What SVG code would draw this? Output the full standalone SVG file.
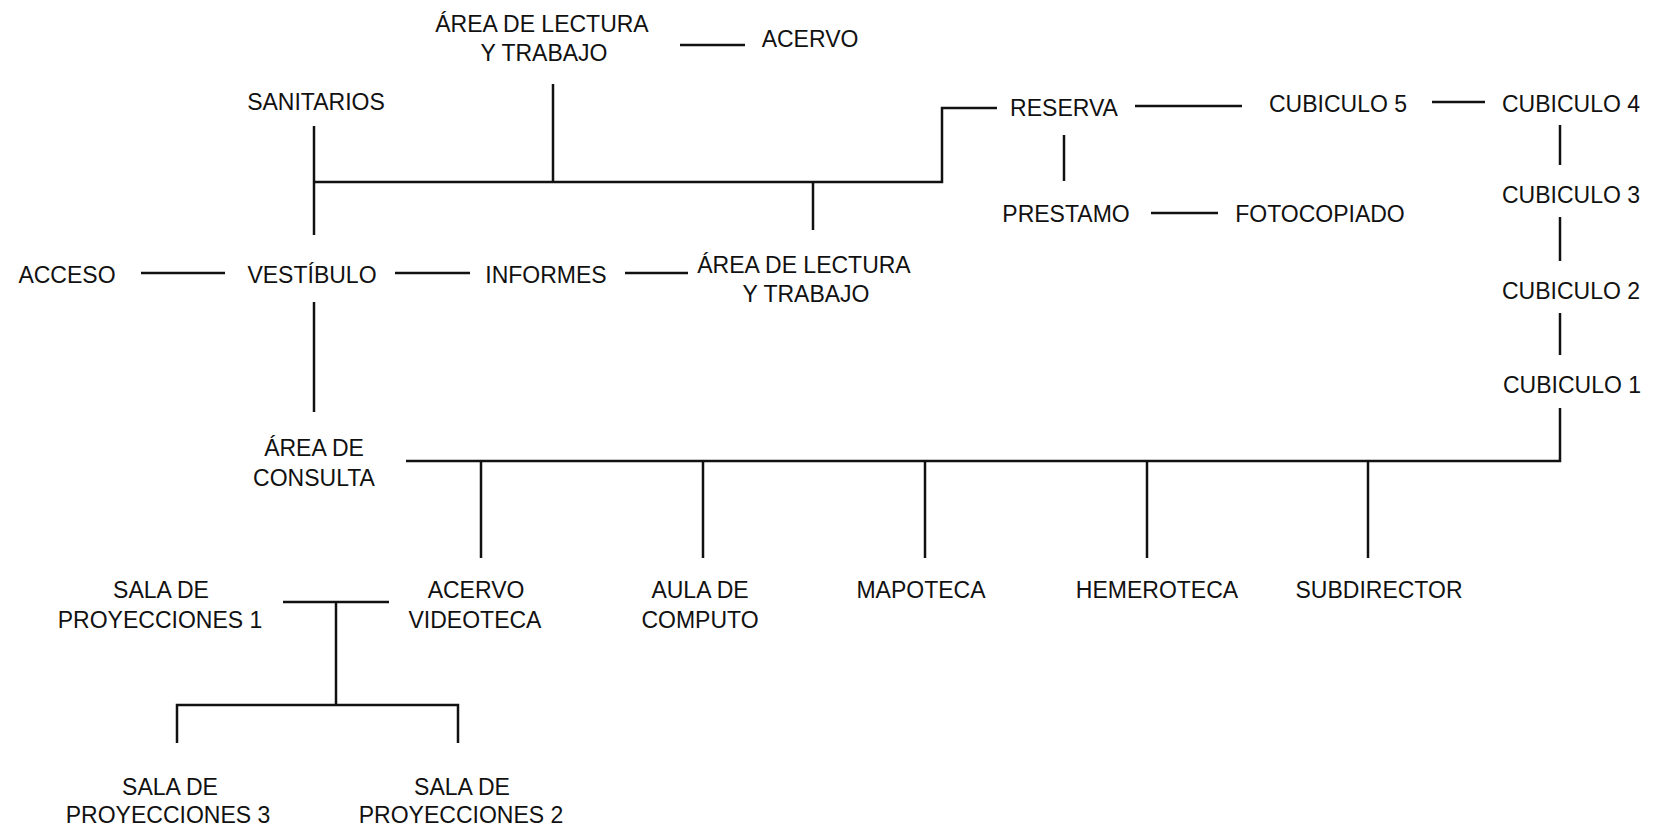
<svg xmlns="http://www.w3.org/2000/svg" width="1653" height="828" viewBox="0 0 1653 828">
<style>
text{font-family:"Liberation Sans",Arial,sans-serif;font-size:23px;fill:#111;text-anchor:middle}
.c line,.c polyline{stroke:#111;stroke-width:2.5;fill:none}
</style>
<rect width="1653" height="828" fill="#fff"/>
<g class="c" id="connectors">
<line x1="680" y1="45" x2="745" y2="45"/>
<line x1="314" y1="126" x2="314" y2="235"/>
<polyline points="314,182 942,182 942,108 997,108"/>
<line x1="553" y1="84" x2="553" y2="182"/>
<line x1="813" y1="182" x2="813" y2="230"/>
<line x1="141" y1="273" x2="225" y2="273"/>
<line x1="395" y1="273" x2="470" y2="273"/>
<line x1="625" y1="273" x2="688" y2="273"/>
<line x1="1135" y1="106" x2="1242" y2="106"/>
<line x1="1432" y1="102" x2="1485" y2="102"/>
<line x1="1064" y1="135" x2="1064" y2="181"/>
<line x1="1151" y1="213" x2="1218" y2="213"/>
<line x1="1560" y1="125" x2="1560" y2="165"/>
<line x1="1560" y1="217" x2="1560" y2="261"/>
<line x1="1560" y1="313" x2="1560" y2="355"/>
<polyline points="1560,408 1560,461 406,461"/>
<line x1="481" y1="461" x2="481" y2="558"/>
<line x1="703" y1="461" x2="703" y2="558"/>
<line x1="925" y1="461" x2="925" y2="558"/>
<line x1="1147" y1="461" x2="1147" y2="558"/>
<line x1="1368" y1="461" x2="1368" y2="558"/>
<line x1="314" y1="302" x2="314" y2="412"/>
<line x1="283" y1="602" x2="389" y2="602"/>
<line x1="336" y1="602" x2="336" y2="705"/>
<polyline points="177,743 177,705 458,705 458,743"/>
</g>
<g id="lectura1"><text x="542" y="32">ÁREA DE LECTURA</text><text x="544" y="61">Y TRABAJO</text></g>
<g id="acervo1"><text x="810" y="47">ACERVO</text></g>
<g id="sanitarios"><text x="316" y="110">SANITARIOS</text></g>
<g id="reserva"><text x="1064" y="116">RESERVA</text></g>
<g id="cubiculo5"><text x="1338" y="112">CUBICULO 5</text></g>
<g id="cubiculo4"><text x="1571" y="112">CUBICULO 4</text></g>
<g id="prestamo"><text x="1066" y="222">PRESTAMO</text></g>
<g id="fotocopiado"><text x="1320" y="222">FOTOCOPIADO</text></g>
<g id="cubiculo3"><text x="1571" y="203">CUBICULO 3</text></g>
<g id="cubiculo2"><text x="1571" y="299">CUBICULO 2</text></g>
<g id="cubiculo1"><text x="1572" y="393">CUBICULO 1</text></g>
<g id="acceso"><text x="67" y="283">ACCESO</text></g>
<g id="vestibulo"><text x="312" y="283">VESTÍBULO</text></g>
<g id="informes"><text x="546" y="283">INFORMES</text></g>
<g id="lectura2"><text x="804" y="273">ÁREA DE LECTURA</text><text x="806" y="302">Y TRABAJO</text></g>
<g id="consulta"><text x="314" y="456">ÁREA DE</text><text x="314" y="486">CONSULTA</text></g>
<g id="sala1"><text x="161" y="598">SALA DE</text><text x="160" y="628">PROYECCIONES 1</text></g>
<g id="videoteca"><text x="476" y="598">ACERVO</text><text x="475" y="628">VIDEOTECA</text></g>
<g id="computo"><text x="700" y="598">AULA DE</text><text x="700" y="628">COMPUTO</text></g>
<g id="mapoteca"><text x="921" y="598">MAPOTECA</text></g>
<g id="hemeroteca"><text x="1157" y="598">HEMEROTECA</text></g>
<g id="subdirector"><text x="1379" y="598">SUBDIRECTOR</text></g>
<g id="sala3"><text x="170" y="795">SALA DE</text><text x="168" y="823">PROYECCIONES 3</text></g>
<g id="sala2"><text x="462" y="795">SALA DE</text><text x="461" y="823">PROYECCIONES 2</text></g>
</svg>
